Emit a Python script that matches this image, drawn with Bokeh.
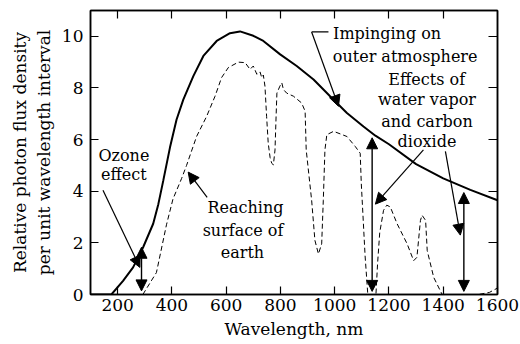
from bokeh.plotting import figure
from bokeh.models import Range1d, LinearAxis, FixedTicker, Arrow, NormalHead, ColumnDataSource
from bokeh.core.properties import value
from bokeh.embed import file_html
from bokeh.resources import INLINE

# ---- data ----
wl_top = [100, 177, 220, 257, 294, 331, 350, 368, 393, 417, 442, 479, 516, 565, 614, 651,
          700, 737, 799, 860, 922, 983, 1045, 1106, 1150, 1200, 1300, 1400, 1500, 1600]
flux_top = [0, 0, 0.53, 1.05, 1.83, 2.74, 3.5, 4.4, 5.7, 6.77, 7.55, 8.46, 9.24, 9.82, 10.12, 10.19,
            10.02, 9.82, 9.3, 8.85, 8.33, 7.68, 7.03, 6.51, 6.15, 5.82, 5.05, 4.5, 4.05, 3.65]

wl_surf = [293, 343, 380, 404, 436, 454, 491, 528, 559, 583, 608, 645, 670, 688, 700, 713, 725,
           731, 737, 743, 749, 755, 762, 768, 774, 780, 784, 787, 798, 805, 811, 823, 848, 878,
           891, 895, 915, 927, 940, 952, 958, 964, 971, 996, 1045, 1076, 1094, 1098, 1112, 1122,
           1152, 1158, 1166, 1180, 1192, 1205, 1230, 1267, 1291, 1303, 1316, 1322, 1335, 1341,
           1365, 1396, 1530, 1570, 1600]
flux_surf = [0, 0.85, 2.7, 3.7, 4.5, 5.0, 6.12, 6.9, 7.68, 8.4, 8.79, 9.0, 8.98, 8.72, 8.85, 8.53, 8.62,
             8.4, 8.5, 8.07, 6.9, 5.86, 5.3, 5.08, 5.02, 5.6, 6.9, 7.8, 8.07, 8.2, 7.94, 7.8, 7.68, 7.42,
             7.1, 5.6, 3.65, 2.1, 1.57, 1.96, 3.65, 5.6, 6.19, 6.32, 6.12, 5.73, 5.47, 4.3, 1.5, 0,
             0, 1.2, 2.4, 3.26, 3.46, 3.39, 2.74, 1.96, 1.31, 1.44, 2.87, 3.07, 2.87, 1.7,
             0.66, 0, 0, 0.08, 0.25]

# double-headed absorption bars
bar_wl = [288, 1138, 1476]
bar_low = [0.14, 0.12, 0.12]
bar_high = [1.83, 6.07, 3.95]

# label pointers
ptr_from_wl = [146, 530, 915, 1327, 1408]
ptr_from_y = [4.04, 3.76, 10.17, 5.6, 5.54]
ptr_to_wl = [282, 460, 1014, 1150, 1463]
ptr_to_y = [1.05, 4.74, 7.29, 3.5, 2.3]

# small horizontal tail of the "Impinging" pointer
tail_wl = [915, 977]
tail_y = [10.17, 10.17]

label_texts = ["Ozone", "effect", "Reaching", "surface of", "earth",
               "Impinging on", "outer atmosphere",
               "Effects of", "water vapor", "and carbon", "dioxide"]
label_wl = [223, 223, 671, 662, 660, 994, 993, 1339, 1340, 1340, 1340]
label_y = [5.39, 4.65, 3.38, 2.48, 1.63, 10.1, 9.23, 8.33, 7.55, 6.71, 5.93]
label_align = ["center"] * 5 + ["left"] * 2 + ["center"] * 4

x_ticks = [200, 400, 600, 800, 1000, 1200, 1400, 1600]
y_ticks = [0, 2, 4, 6, 8, 10]

FONT = "DejaVu Serif"

p = figure(width=520, height=344, output_backend="svg", toolbar_location=None,
           x_range=Range1d(100, 1600), y_range=Range1d(0, 11),
           min_border_left=90, min_border_right=23, min_border_top=10, min_border_bottom=50,
           x_axis_label="Wavelength, nm",
           y_axis_label="Relative photon flux density\nper unit wavelength interval")
p.xgrid.visible = False
p.ygrid.visible = False
p.outline_line_color = "black"
p.outline_line_width = 1.5
p.background_fill_color = "white"
p.border_fill_color = "white"

for ax in p.xaxis:
    ax.ticker = FixedTicker(ticks=x_ticks)
for ax in p.yaxis:
    ax.ticker = FixedTicker(ticks=y_ticks)

for ax in list(p.xaxis) + list(p.yaxis):
    ax.major_tick_in = 8
    ax.major_tick_out = 0
    ax.minor_tick_in = 0
    ax.minor_tick_out = 0
    ax.axis_line_width = 1.5
    ax.major_tick_line_width = 1.2
    ax.major_label_text_font = FONT
    ax.major_label_text_font_size = "17px"
    ax.major_label_text_color = "black"
    ax.axis_label_text_font = FONT
    ax.axis_label_text_font_size = "17px"
    ax.axis_label_text_font_style = "normal"
    ax.axis_label_text_color = "black"
p.xaxis.major_label_standoff = 4
p.xaxis.axis_label_standoff = 5
p.yaxis.major_label_standoff = 7
p.yaxis.axis_label_standoff = 5

top_ax = LinearAxis(ticker=FixedTicker(ticks=x_ticks[:-1]),
                    major_label_overrides={t: "" for t in x_ticks[:-1]},
                    major_tick_in=8, major_tick_out=0, minor_tick_in=0, minor_tick_out=0,
                    axis_line_width=1.5, major_tick_line_width=1.2, major_label_standoff=0)
right_ax = LinearAxis(ticker=FixedTicker(ticks=y_ticks[1:]),
                      major_label_overrides={t: "" for t in y_ticks[1:]},
                      major_tick_in=9, major_tick_out=0, minor_tick_in=0, minor_tick_out=0,
                      axis_line_width=1.5, major_tick_line_width=1.2, major_label_standoff=0)
p.add_layout(top_ax, "above")
p.add_layout(right_ax, "right")

p.line(wl_top, flux_top, line_color="black", line_width=2)
p.line(wl_surf, flux_surf, line_color="black", line_width=1, line_dash="5 3")
p.line(tail_wl, tail_y, line_color="black", line_width=1.2)

head = dict(size=11, fill_color="black", line_color="black", line_width=1)
bars = ColumnDataSource(dict(x=bar_wl, y0=bar_low, y1=bar_high))
p.add_layout(Arrow(source=bars, x_start="x", y_start="y0", x_end="x", y_end="y1",
                   start=NormalHead(**head), end=NormalHead(**head),
                   line_color="black", line_width=1.4))
ptrs = ColumnDataSource(dict(x0=ptr_from_wl, y0=ptr_from_y, x1=ptr_to_wl, y1=ptr_to_y))
p.add_layout(Arrow(source=ptrs, x_start="x0", y_start="y0", x_end="x1", y_end="y1",
                   end=NormalHead(**head), line_color="black", line_width=1.2))

labels = ColumnDataSource(dict(x=label_wl, y=label_y, t=label_texts, a=label_align))
p.text(x="x", y="y", text="t", source=labels, text_align="a", text_baseline="middle",
       text_font=value(FONT), text_font_size=value("16px"), text_color="black")

open("out.html", "w").write(file_html(p, INLINE))
